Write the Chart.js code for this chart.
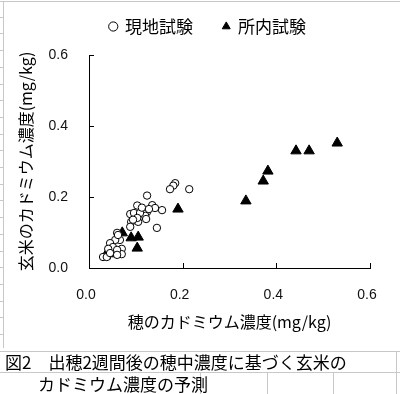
<!DOCTYPE html>
<html>
<head>
<meta charset="utf-8">
<script src="https://cdn.jsdelivr.net/npm/chart.js@4"></script>
<style>
body{margin:0;background:#fff;}
#wrap{position:relative;width:400px;height:394px;overflow:hidden;background:#fff;font-family:"Noto Sans CJK JP",sans-serif;color:#000;}
#myChart{position:absolute;left:0;top:0;}
.ln{position:absolute;background:#c8c8c8;}
.cap{position:absolute;font-size:17px;line-height:21px;white-space:pre;}
</style>
</head>
<body>
<div id="wrap">
  <canvas id="myChart" width="400" height="350"></canvas>
  <!-- sheet lines around the chart object -->
  <div class="ln" style="left:0;top:1px;width:400px;height:1px;"></div>
  <div class="ln" style="left:3px;top:2px;width:1px;height:346px;"></div>
  <div id="stubs"></div>
  <div class="ln" style="left:0;top:351px;width:400px;height:1px;"></div>
  <div class="ln" style="left:0;top:372px;width:400px;height:1px;"></div>
  <div class="ln" style="left:396px;top:351px;width:1px;height:43px;"></div>
  <div class="ln" style="left:200px;top:372px;width:1px;height:22px;"></div>
  <div class="ln" style="left:267px;top:372px;width:1px;height:22px;"></div>
  <div class="ln" style="left:333px;top:372px;width:1px;height:22px;"></div>
  <div class="cap" style="left:5px;top:351px;">図2　出穂2週間後の穂中濃度に基づく玄米の</div>
  <div class="cap" style="left:38px;top:373px;">カドミウム濃度の予測</div>
</div>
<script>
// 現地試験
const fieldX = [0.184,0.180,0.173,0.214,0.124,0.103,0.135,0.141,0.156,0.124,0.120,0.088,0.096,0.109,0.105,0.090,0.088,0.122,0.145,0.103,0.060,0.066,0.056,0.045,0.051,0.070,0.070,0.041,0.030,0.038,0.045,0.060,0.062,0.060,0.094,0.113,0.128];
const fieldY = [0.239,0.232,0.222,0.222,0.204,0.176,0.177,0.169,0.163,0.158,0.147,0.152,0.155,0.155,0.130,0.130,0.116,0.138,0.113,0.141,0.099,0.079,0.079,0.070,0.059,0.054,0.039,0.054,0.031,0.031,0.042,0.051,0.093,0.037,0.136,0.170,0.166];
// 所内試験
const stationX = [0.035,0.042,0.071,0.090,0.105,0.103,0.190,0.335,0.372,0.382,0.442,0.470,0.530];
const stationY = [0.034,0.040,0.099,0.085,0.087,0.056,0.166,0.189,0.245,0.273,0.330,0.330,0.352];
const xTicks = [0, 0.2, 0.4, 0.6];
const yTicks = [0, 0.2, 0.4, 0.6];
const seriesNames = ['現地試験', '所内試験'];
const xTitle = '穂のカドミウム濃度(mg/kg)';
const yTitle = '玄米のカドミウム濃度(mg/kg)';

// little grid stubs at the left edge
var stubs = '';
for (var i = 1; i < 21; i++) {
    stubs += '<div class="ln" style="left:0;top:' + Math.round(i * 16.7) + 'px;width:3px;height:1px;"></div>';
}
document.getElementById('stubs').innerHTML = stubs;

function pts(xs, ys){
    return xs.map(function(v, i){ return {x: v, y: ys[i]}; });
}

const jp = '"Noto Sans CJK JP", sans-serif';
const num = '"Liberation Sans", Arial, sans-serif';

// tick marks pointing into the plot
const innerTicks = {
    id: 'innerTicks',
    afterDraw(chart){
        const ctx = chart.ctx, a = chart.chartArea;
        const xs = chart.scales.x, ys = chart.scales.y;
        ctx.save();
        ctx.strokeStyle = '#000';
        ctx.lineWidth = 1;
        ctx.beginPath();
        xs.ticks.forEach(function(t){
            const px = Math.round(xs.getPixelForValue(t.value)) + 0.5;
            ctx.moveTo(px, a.bottom);
            ctx.lineTo(px, a.bottom - 5);
        });
        ys.ticks.forEach(function(t){
            const py = Math.round(ys.getPixelForValue(t.value)) + 0.5;
            ctx.moveTo(a.left, py);
            ctx.lineTo(a.left + 5, py);
        });
        ctx.stroke();
        ctx.restore();
    }
};

const data = {
    datasets: [{
        label: seriesNames[0],
        data: pts(fieldX, fieldY),
        pointStyle: 'circle',
        pointRadius: 3.7,
        backgroundColor: '#fff',
        borderColor: '#000',
        borderWidth: 1
    }, {
        label: seriesNames[1],
        data: pts(stationX, stationY),
        pointStyle: 'triangle',
        pointRadius: 6,
        backgroundColor: '#000',
        borderColor: '#000',
        borderWidth: 1
    }]
};

const config = {
    type: 'scatter',
    data: data,
    options: {
        responsive: false,
        animation: false,
        devicePixelRatio: 1,
        layout: { padding: { left: 16, top: -12, right: 0, bottom: 0 }, autoPadding: false },
        plugins: {
            legend: {
                position: 'top',
                labels: {
                    usePointStyle: true,
                    boxWidth: 6.5,
                    boxHeight: 6.5,
                    padding: 30,
                    color: '#000',
                    font: { family: jp, size: 17 }
                }
            },
            tooltip: { enabled: false }
        },
        scales: {
            x: {
                type: 'linear',
                position: 'bottom',
                min: xTicks[0],
                max: xTicks[xTicks.length - 1],
                afterBuildTicks: function(s){ s.ticks = xTicks.map(function(v){ return {value: v}; }); },
                ticks: { padding: 19, labelOffset: -3, color: '#111', font: { family: num, size: 14 }, callback: function(v){ return Number(v).toFixed(1); } },
                grid: { drawOnChartArea: false, drawTicks: false, color: '#000' },
                border: { color: '#000', width: 1 },
                title: { display: true, text: xTitle, color: '#000', font: { family: jp, size: 16 }, padding: { top: 0, bottom: 18 } },
                afterFit: function(s){ s.height = 82; }
            },
            xTop: {
                type: 'linear',
                position: 'top',
                display: true,
                grid: { display: false },
                border: { display: false },
                ticks: { display: false },
                afterFit: function(s){ s.height = 10; }
            },
            y: {
                type: 'linear',
                position: 'left',
                min: yTicks[0],
                max: yTicks[yTicks.length - 1],
                afterBuildTicks: function(s){ s.ticks = yTicks.map(function(v){ return {value: v}; }); },
                ticks: { padding: 21, color: '#111', font: { family: num, size: 14 }, callback: function(v){ return Number(v).toFixed(1); } },
                grid: { drawOnChartArea: false, drawTicks: false, color: '#000' },
                border: { color: '#000', width: 1 },
                title: { display: true, text: yTitle, color: '#000', font: { family: jp, size: 16 }, padding: { top: 0, bottom: 0 } },
                afterFit: function(s){ s.width = 73; }
            },
            yR: {
                position: 'right',
                display: true,
                grid: { display: false },
                border: { display: false },
                ticks: { display: false },
                afterFit: function(s){ s.width = 30; }
            }
        }
    },
    plugins: [innerTicks]
};

const myChart = new Chart(document.getElementById('myChart'), config);
</script>
</body>
</html>
